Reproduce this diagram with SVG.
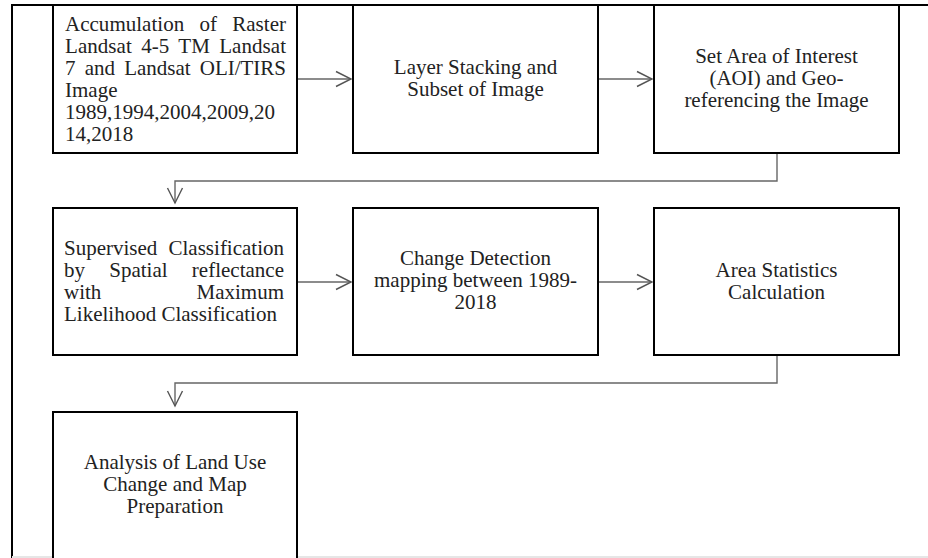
<svg xmlns="http://www.w3.org/2000/svg" width="928" height="558" viewBox="0 0 928 558">
<style>
.box{fill:#fff;stroke:#000;stroke-width:2}
.frame{fill:none;stroke:#000;stroke-width:2}
.conn{fill:none;stroke:#666;stroke-width:1.4}
text{font-family:"Liberation Serif","Times New Roman",serif;font-size:21px;fill:#222}
.c{text-anchor:middle}
.e{text-anchor:end}
</style>
<defs>
<marker id="chev" markerUnits="userSpaceOnUse" markerWidth="18" markerHeight="18" refX="15" refY="7.5" orient="auto" overflow="visible">
<path d="M0,0 L15,7.5 L0,15" fill="none" stroke="#555" stroke-width="1.4"/>
</marker>
</defs>
<rect width="928" height="558" fill="#fff"/>
<g id="frame">
<path class="frame" d="M12,558 L12,5 L928,5"/>
<line x1="12" y1="557" x2="928" y2="557" stroke="#e6e6e6" stroke-width="2"/>
</g>
<g id="connectors">
<line class="conn" x1="297" y1="79" x2="351" y2="79" marker-end="url(#chev)"/>
<line class="conn" x1="598" y1="79" x2="652" y2="79" marker-end="url(#chev)"/>
<path class="conn" d="M777,153 L777,181 L175,181 L175,203" marker-end="url(#chev)"/>
<line class="conn" x1="297" y1="282" x2="351" y2="282" marker-end="url(#chev)"/>
<line class="conn" x1="598" y1="282" x2="652" y2="282" marker-end="url(#chev)"/>
<path class="conn" d="M777,355 L777,383 L175,383 L175,406" marker-end="url(#chev)"/>
</g>
<g id="n1">
<rect class="box" x="53" y="5" width="244" height="148"/>
<text x="65" y="31" word-spacing="10" textLength="221" lengthAdjust="spacing">Accumulation of Raster</text>
<text x="65" y="53" word-spacing="4" textLength="221" lengthAdjust="spacing">Landsat 4-5 TM Landsat</text>
<text x="65" y="75" word-spacing="4" textLength="221" lengthAdjust="spacing">7 and Landsat OLI/TIRS</text>
<text x="65" y="97">Image</text>
<text x="65" y="119">1989,1994,2004,2009,20</text>
<text x="65" y="141">14,2018</text>
</g>
<g id="n2">
<rect class="box" x="353" y="5" width="245" height="148"/>
<text x="475.5" y="74" class="c">Layer Stacking and</text>
<text x="475.5" y="96" class="c">Subset of Image</text>
</g>
<g id="n3">
<rect class="box" x="654" y="5" width="245" height="148"/>
<text x="776.5" y="63" class="c">Set Area of Interest</text>
<text x="776.5" y="85" class="c">(AOI) and Geo-</text>
<text x="776.5" y="107" class="c">referencing the Image</text>
</g>
<g id="n4">
<rect class="box" x="53" y="208" width="244" height="147"/>
<text x="64" y="255" word-spacing="6" textLength="220" lengthAdjust="spacing">Supervised Classification</text>
<text x="64" y="277" word-spacing="19" textLength="220" lengthAdjust="spacing">by Spatial reflectance</text>
<text x="64" y="299" word-spacing="90" textLength="220" lengthAdjust="spacing">with Maximum</text>
<text x="64" y="321">Likelihood Classification</text>
</g>
<g id="n5">
<rect class="box" x="353" y="208" width="245" height="147"/>
<text x="475.5" y="265" class="c">Change Detection</text>
<text x="475.5" y="287" class="c">mapping between 1989-</text>
<text x="475.5" y="309" class="c">2018</text>
</g>
<g id="n6">
<rect class="box" x="654" y="208" width="245" height="147"/>
<text x="776.5" y="277" class="c">Area Statistics</text>
<text x="776.5" y="299" class="c">Calculation</text>
</g>
<g id="n7">
<rect class="box" x="53" y="412" width="244" height="160"/>
<text x="175" y="469" class="c">Analysis of Land Use</text>
<text x="175" y="491" class="c">Change and Map</text>
<text x="175" y="513" class="c">Preparation</text>
</g>
</svg>
